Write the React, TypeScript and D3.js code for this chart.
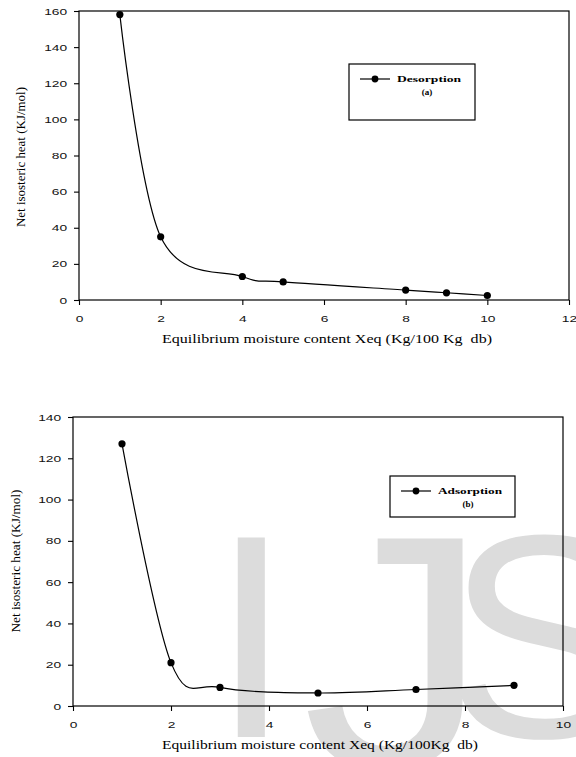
import React, { useEffect, useRef } from 'react';
import * as d3 from 'd3';

// values
const desorptionX = [1, 2, 4, 5, 8, 9, 10];
const desorptionY = [158, 35, 13, 10, 5.5, 4, 2.5];
const adsorptionX = [1, 2, 3, 5, 7, 9];
const adsorptionY = [127, 21, 9, 6.3, 8, 10];

const topXTicks = [0, 2, 4, 6, 8, 10, 12];
const topYTicks = [0, 20, 40, 60, 80, 100, 120, 140, 160];
const bottomXTicks = [0, 2, 4, 6, 8, 10];
const bottomYTicks = [0, 20, 40, 60, 80, 100, 120, 140];

const yTitle = 'Net isosteric heat (KJ/mol)';
const topXTitle = 'Equilibrium moisture content Xeq (Kg/100 Kg  db)';
const bottomXTitle = 'Equilibrium moisture content Xeq (Kg/100Kg  db)';

const App = () => {
  const svgRef = useRef<SVGSVGElement>(null);

  useEffect(() => {
    const svg = d3.select(svgRef.current);
    svg.selectAll('*').remove();

    // watermark behind everything
    const wm = svg.append('g')
      .attr('font-family', 'Liberation Sans, Arial, sans-serif')
      .attr('font-size', 290)
      .attr('fill', '#dcdcdc');
    wm.append('text').attr('x', 211).attr('y', 737).text('I');
    wm.append('text')
      .attr('transform', 'translate(302, 530) scale(1.3, 1.15) translate(0, 207)')
      .text('J');
    wm.append('text').attr('x', 446).attr('y', 737).text('S');

    drawPanel(svg, {
      left: 79, right: 569, top: 11, bottom: 300,
      xMax: 12, yMax: 160,
      xTicks: topXTicks, yTicks: topYTicks,
      xs: desorptionX, ys: desorptionY,
      xTitle: topXTitle, xTitleX: 327, xTitleY: 343, xTitleLen: 330,
      yTitleX: 25, yTitleY: 157, yTitleLen: 140,
      legend: { x: 349, y: 64, w: 126, h: 56, name: 'Desorption', tag: '(a)' },
    });

    drawPanel(svg, {
      left: 73, right: 563, top: 417, bottom: 706,
      xMax: 10, yMax: 140,
      xTicks: bottomXTicks, yTicks: bottomYTicks,
      xs: adsorptionX, ys: adsorptionY,
      xTitle: bottomXTitle, xTitleX: 320, xTitleY: 749, xTitleLen: 316,
      yTitleX: 20, yTitleY: 561, yTitleLen: 143,
      legend: { x: 390, y: 476, w: 125, h: 41, name: 'Adsorption', tag: '(b)' },
    });
  }, []);

  function drawPanel(svg, c) {
    const x = d3.scaleLinear().domain([0, c.xMax]).range([c.left, c.right]);
    const y = d3.scaleLinear().domain([0, c.yMax]).range([c.bottom, c.top]);

    const xAxis = svg.append('g')
      .attr('transform', `translate(0, ${c.bottom})`)
      .call(d3.axisBottom(x).tickValues(c.xTicks).tickSize(5).tickPadding(10).tickFormat(d3.format('d')));
    const yAxis = svg.append('g')
      .attr('transform', `translate(${c.left}, 0)`)
      .call(d3.axisLeft(y).tickValues(c.yTicks).tickSize(5).tickPadding(3.2).tickFormat(d3.format('d')));

    [xAxis, yAxis].forEach(a => {
      a.select('.domain').remove();
      a.selectAll('line').attr('stroke', '#000').attr('stroke-width', 1.1);
      a.selectAll('text')
        .attr('font-family', 'Liberation Sans, Arial, sans-serif')
        .attr('font-size', 9.5)
        .attr('fill', '#111')
        .attr('transform', 'scale(1.45,1)');
    });

    svg.append('rect')
      .attr('x', c.left)
      .attr('y', c.top)
      .attr('width', c.right - c.left)
      .attr('height', c.bottom - c.top)
      .attr('fill', 'none')
      .attr('stroke', '#000')
      .attr('stroke-width', 1.2);

    const pts = c.xs.map((v, i) => [v, c.ys[i]]);
    const line = d3.line()
      .x(d => x(d[0]))
      .y(d => y(d[1]))
      .curve(d3.curveCatmullRom.alpha(0));

    svg.append('path')
      .datum(pts)
      .attr('d', line)
      .attr('fill', 'none')
      .attr('stroke', '#000')
      .attr('stroke-width', 1.2);

    svg.append('g')
      .selectAll('circle')
      .data(pts)
      .enter()
      .append('circle')
      .attr('cx', d => x(d[0]))
      .attr('cy', d => y(d[1]))
      .attr('r', 3.6)
      .attr('fill', '#000');

    svg.append('text')
      .attr('x', c.xTitleX)
      .attr('y', c.xTitleY)
      .attr('text-anchor', 'middle')
      .attr('font-family', 'Liberation Serif, Times New Roman, serif')
      .attr('font-size', 13)
      .attr('textLength', c.xTitleLen)
      .attr('lengthAdjust', 'spacingAndGlyphs')
      .style('white-space', 'pre')
      .text(c.xTitle);

    svg.append('text')
      .attr('transform', `translate(${c.yTitleX}, ${c.yTitleY}) rotate(-90)`)
      .attr('text-anchor', 'middle')
      .attr('font-family', 'Liberation Serif, Times New Roman, serif')
      .attr('font-size', 13)
      .attr('textLength', c.yTitleLen)
      .attr('lengthAdjust', 'spacingAndGlyphs')
      .text(yTitle);

    // legend
    const lg = c.legend;
    svg.append('rect')
      .attr('x', lg.x)
      .attr('y', lg.y)
      .attr('width', lg.w)
      .attr('height', lg.h)
      .attr('fill', '#fff')
      .attr('stroke', '#000')
      .attr('stroke-width', 1.2);
    const ly = lg.y + 15;
    svg.append('line')
      .attr('x1', lg.x + 11)
      .attr('x2', lg.x + 41)
      .attr('y1', ly)
      .attr('y2', ly)
      .attr('stroke', '#000')
      .attr('stroke-width', 1.2);
    svg.append('circle')
      .attr('cx', lg.x + 26)
      .attr('cy', ly)
      .attr('r', 3.4)
      .attr('fill', '#000');
    svg.append('text')
      .attr('x', lg.x + 48)
      .attr('y', ly + 3)
      .attr('font-family', 'Liberation Serif, Times New Roman, serif')
      .attr('font-size', 9)
      .attr('font-weight', 'bold')
      .attr('textLength', 64)
      .attr('lengthAdjust', 'spacingAndGlyphs')
      .text(lg.name);
    svg.append('text')
      .attr('x', lg.x + 78)
      .attr('y', ly + 16)
      .attr('text-anchor', 'middle')
      .attr('font-family', 'Liberation Serif, Times New Roman, serif')
      .attr('font-size', 9)
      .attr('font-weight', 'bold')
      .text(lg.tag);
  }

  return (
    <svg
      ref={svgRef}
      width={576}
      height={757}
      style={{ position: 'absolute', left: 0, top: 0, background: '#fff' }}
    ></svg>
  );
};

export default App;
